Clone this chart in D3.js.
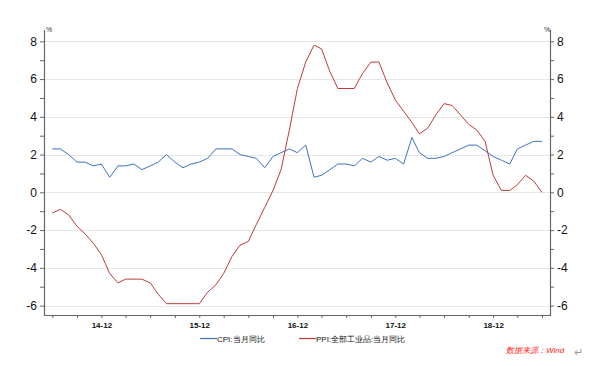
<!DOCTYPE html>
<html>
<head>
<meta charset="utf-8">
<script src="https://cdn.jsdelivr.net/npm/d3@7"></script>
<style>
  body { margin: 0; background: #fff; }
  text { font-family: "Liberation Sans", Arial, sans-serif; }
</style>
</head>
<body>
<div id="chart"></div>
<script>
// months from 2014-06 to 2019-06
var start_month = "2014-06";
var cpi = [2.3, 2.3, 2.0, 1.6, 1.6, 1.4, 1.5, 0.8, 1.4, 1.4, 1.5, 1.2, 1.4, 1.6, 2.0, 1.6, 1.3, 1.5, 1.6,
  1.8, 2.3, 2.3, 2.3, 2.0, 1.9, 1.8, 1.3, 1.9, 2.1, 2.3, 2.1,
  2.5, 0.8, 0.9, 1.2, 1.5, 1.5, 1.4, 1.8, 1.6, 1.9, 1.7, 1.8,
  1.5, 2.9, 2.1, 1.8, 1.8, 1.9, 2.1, 2.3, 2.5, 2.5, 2.2, 1.9,
  1.7, 1.5, 2.3, 2.5, 2.7, 2.7];
var ppi = [-1.1, -0.9, -1.2, -1.8, -2.2, -2.7, -3.3, -4.3, -4.8, -4.6, -4.6, -4.6, -4.8, -5.4, -5.9, -5.9, -5.9, -5.9, -5.9,
  -5.3, -4.9, -4.3, -3.4, -2.8, -2.6, -1.7, -0.8, 0.1, 1.2, 3.3, 5.5,
  6.9, 7.8, 7.6, 6.4, 5.5, 5.5, 5.5, 6.3, 6.9, 6.9, 5.8, 4.9,
  4.3, 3.7, 3.1, 3.4, 4.1, 4.7, 4.6, 4.1, 3.6, 3.3, 2.7, 0.9,
  0.1, 0.1, 0.4, 0.9, 0.6, 0.0];
var y_ticks = [-6, -4, -2, 0, 2, 4, 6, 8];
var series_names = ["CPI:当月同比", "PPI:全部工业品:当月同比"];
var source_text = "数据来源：Wind";

var chart_width = 604, chart_height = 366;
var m_left = 44, m_right = 550, m_top = 30, m_bottom = 315;

var parse = d3.timeParse("%Y-%m");
var t0 = parse(start_month);
var dates = cpi.map(function(d, i) { return d3.timeMonth.offset(t0, i); });

var svg = d3.select('#chart').append('svg')
  .attr('width', chart_width).attr('height', chart_height);

var x_scale = d3.scaleTime()
  .domain([d3.timeMonth.offset(t0, -1), d3.timeMonth.offset(dates[dates.length - 1], 1)])
  .range([m_left, m_right]);

var y_scale = d3.scaleLinear()
  .domain([-6.5, 8.6])
  .range([m_bottom, m_top]);

// grid
svg.append('g').selectAll('line')
  .data(y_ticks).enter().append('line')
  .attr('x1', m_left).attr('x2', m_right)
  .attr('y1', function(d) { return Math.round(y_scale(d)) + 0.5; })
  .attr('y2', function(d) { return Math.round(y_scale(d)) + 0.5; })
  .attr('stroke', '#e6e6e6');

// axes (odd values get a minor tick, no label)
var minor = d3.range(-6, 9, 1);
var y_left = d3.axisLeft(y_scale).tickValues(minor).tickSize(4).tickPadding(3)
  .tickFormat(function(d) { return d % 2 === 0 ? d : ''; });
var y_right = d3.axisRight(y_scale).tickValues(minor).tickSize(4).tickPadding(3)
  .tickFormat(function(d) { return d % 2 === 0 ? d : ''; });

function style_axis(g) {
  g.select('.domain').remove();
  g.selectAll('.tick line').attr('stroke', '#666');
  g.selectAll('.tick text').attr('font-size', 12).attr('fill', '#111');
}

svg.append('g').attr('transform', 'translate(' + m_left + ',0)').call(y_left).call(style_axis);
svg.append('g').attr('transform', 'translate(' + m_right + ',0)').call(y_right).call(style_axis);

// a tick every quarter starting at the first month, label on Decembers
var quarter_ticks = dates.filter(function(d, i) { return i % 3 === 0; });
var x_axis = d3.axisBottom(x_scale).tickValues(quarter_ticks).tickSize(3).tickPadding(4)
  .tickFormat(function(d) {
    return d.getMonth() === 11 ? d3.timeFormat("%y-%m")(d) : '';
  });
svg.append('g').attr('transform', 'translate(0,' + m_bottom + ')').call(x_axis)
  .call(function(g) {
    g.select('.domain').remove();
    g.selectAll('.tick line').attr('stroke', '#666');
    g.selectAll('.tick text').attr('font-size', 8).attr('font-weight', 'bold').attr('fill', '#111');
  });

// frame lines (left, right, bottom)
svg.append('path')
  .attr('d', 'M' + (m_left + 0.5) + ',' + m_top + 'V' + (m_bottom + 0.5) + 'H' + (m_right + 0.5) + 'V' + m_top)
  .attr('fill', 'none').attr('stroke', '#666').attr('stroke-width', 1.2);

// % marks
svg.append('text').attr('x', m_left + 2).attr('y', m_top + 2).attr('font-size', 7).attr('fill', '#333').text('%');
svg.append('text').attr('x', m_right - 6).attr('y', m_top + 2).attr('font-size', 7).attr('fill', '#333').text('%');

// lines
var line_gen = d3.line()
  .x(function(d, i) { return x_scale(dates[i]); })
  .y(function(d) { return y_scale(d); });

svg.append('path').datum(cpi)
  .attr('d', line_gen).attr('fill', 'none')
  .attr('stroke', '#3d72c0').attr('stroke-width', 1);

svg.append('path').datum(ppi)
  .attr('d', line_gen).attr('fill', 'none')
  .attr('stroke', '#c0393b').attr('stroke-width', 1);

// legend
var legend = [
  { name: series_names[0], color: '#3d72c0', x: 200 },
  { name: series_names[1], color: '#c0393b', x: 299 }
];
var lg = svg.selectAll('.legend').data(legend).enter().append('g')
  .attr('transform', function(d) { return 'translate(' + d.x + ',338)'; });
lg.append('line').attr('x1', 0).attr('x2', 17).attr('y1', 0.5).attr('y2', 0.5)
  .attr('stroke', function(d) { return d.color; }).attr('stroke-width', 1.2);
lg.append('text').attr('x', 17).attr('y', 3.5).attr('font-size', 8).attr('fill', '#111')
  .text(function(d) { return d.name; });

// source
svg.append('text').attr('x', 506).attr('y', 353).attr('font-size', 8)
  .attr('font-style', 'italic').attr('fill', '#ff2020').text(source_text);
svg.append('text').attr('x', 574).attr('y', 356).attr('font-size', 11)
  .attr('fill', '#999').text('↵');
</script>
</body>
</html>
